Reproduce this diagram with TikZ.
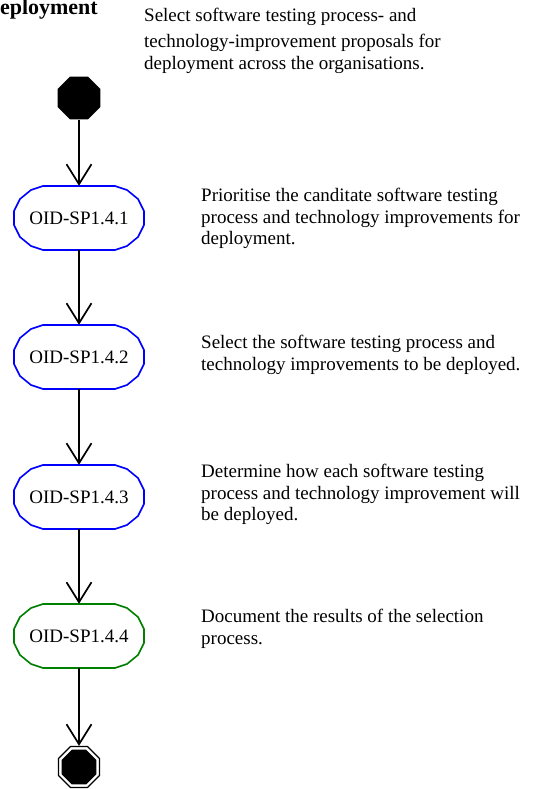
\documentclass[tikz,border=0pt]{standalone}
\usepackage{fontspec}
\setmainfont{Liberation Serif}
\usetikzlibrary{arrows.meta,shapes.geometric}

\definecolor{stepblue}{RGB}{0,0,255}
\definecolor{stepgreen}{RGB}{0,128,0}

% Outline of an activity step: a flat-topped box with faceted ends
\newcommand\stepoutline[2]{%
  \draw[#2, line width=1.6pt, line join=round, shift={(#1.center)}]
    (-36,-32) -- (36,-32) -- (48,-28) -- (59,-19) -- (65,-7) -- (65,7)
    -- (59,19) -- (48,28) -- (36,32) -- (-36,32) -- (-48,28) -- (-59,19)
    -- (-65,7) -- (-65,-7) -- (-59,-19) -- (-48,-28) -- cycle;}

\begin{document}
\begin{tikzpicture}[x=1pt, y=-1pt,
  flow/.style={draw=black, line width=1.7pt,
    -{Straight Barb[length=20pt, width=25pt]}},
  stepbox/.style={rectangle, minimum width=130pt, minimum height=64pt,
    inner sep=0pt, font=\fontsize{19}{21}\selectfont},
  note/.style={anchor=north west, align=left, inner sep=0pt,
    font=\fontsize{19}{21.5}\selectfont},
  startdot/.style={regular polygon, regular polygon sides=8,
    minimum size=46.5pt, inner sep=0pt, fill=black},
  enddot/.style={regular polygon, regular polygon sides=8,
    minimum size=44.5pt, inner sep=0pt, draw=black, line width=1.2pt, fill=white},
  endcore/.style={regular polygon, regular polygon sides=8,
    minimum size=37.5pt, inner sep=0pt, fill=black},
]
\useasboundingbox (0,0) rectangle (542,789);
\clip (0,0) rectangle (542,789);

% heading and overall description
\node[anchor=base east, inner sep=0pt, font=\bfseries\fontsize{22}{24}\selectfont]
  (title) at (98,15) {Deployment};
\node[note, font=\fontsize{19}{22}\selectfont] (intro) at (144,8)
  {Select software testing process- and\\[4pt]
   technology-improvement proposals for\\
   deployment across the organisations.};

% initial and final states
\node[startdot] (start) at (79,98) {};
\node[enddot] (end) at (79,767) {};
\node[endcore] (endc) at (79,767) {};

% activity steps
\node[stepbox] (s1) at (79,218) {OID-SP1.4.1};
\node[stepbox] (s2) at (79,357) {OID-SP1.4.2};
\node[stepbox] (s3) at (79,497) {OID-SP1.4.3};
\node[stepbox] (s4) at (79,636) {OID-SP1.4.4};
\stepoutline{s1}{stepblue}
\stepoutline{s2}{stepblue}
\stepoutline{s3}{stepblue}
\stepoutline{s4}{stepgreen}

% step descriptions
\node[note] (d1) at (201,188)
  {Prioritise the canditate software testing\\
   process and technology improvements for\\
   deployment.};
\node[note] (d2) at (201,335)
  {Select the software testing process and\\
   technology improvements to be deployed.};
\node[note] (d3) at (201,464)
  {Determine how each software testing\\
   process and technology improvement will\\
   be deployed.};
\node[note] (d4) at (201,609)
  {Document the results of the selection\\
   process.};

% control flow
\draw[flow] (start) -- (s1);
\draw[flow] (s1) -- (s2);
\draw[flow] (s2) -- (s3);
\draw[flow] (s3) -- (s4);
\draw[flow] (s4) -- (end);
\end{tikzpicture}
\end{document}
